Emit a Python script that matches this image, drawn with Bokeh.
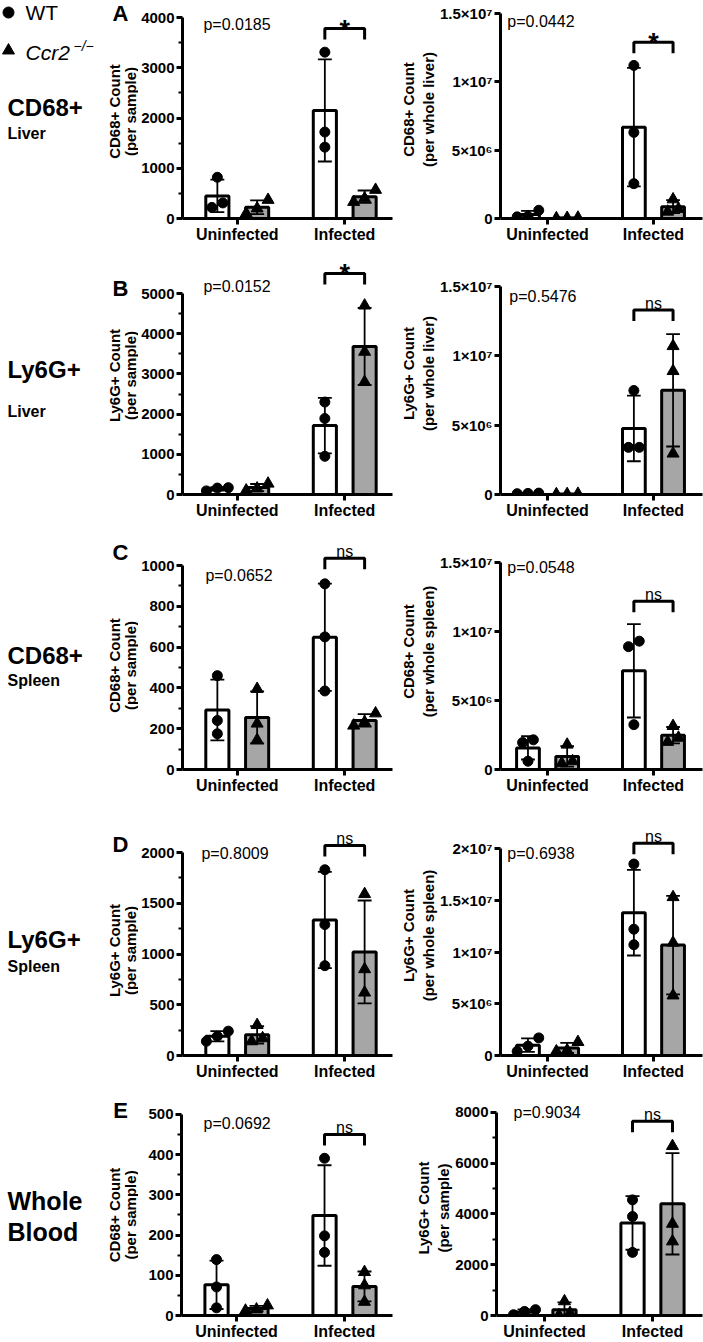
import numpy as np
from bokeh.plotting import figure
from bokeh.models import Range1d, FixedTicker, Label
from bokeh.layouts import column, row
from bokeh.embed import file_html
from bokeh.resources import INLINE
from bokeh.core.properties import value

# ------------------------------------------------------------------ data
groups = ["Uninfected", "Infected"]
genotypes = ["WT", "Ccr2"]

# points per mouse: [uninfected, infected]
A_sample_WT = [[820, 220, 310], [3310, 1720, 1420]]
A_sample_KO = [[370, 200, 100], [570, 400, 330]]
A_whole_WT = [[0.15e6, 0.6e6, 0.12e6], [11.2e6, 6.3e6, 2.55e6]]
A_whole_KO = [[0.04e6, 0.06e6, 0.02e6], [1.4e6, 0.7e6, 0.5e6]]
B_sample_WT = [[90, 160, 170], [2300, 1890, 950]]
B_sample_KO = [[270, 150, 100], [4700, 3550, 2800]]
B_whole_WT = [[0.1e6, 0.08e6, 0.06e6], [7.5e6, 3.4e6, 3.4e6]]
B_whole_KO = [[0.03e6, 0.02e6, 0.05e6], [10.7e6, 8.9e6, 2.95e6]]
C_sample_WT = [[460, 240, 175], [910, 650, 385]]
C_sample_KO = [[395, 225, 145], [275, 232, 215]]
C_whole_WT = [[2.15e6, 1.95e6, 0.6e6], [9.3e6, 8.9e6, 3.25e6]]
C_whole_KO = [[1.8e6, 0.6e6, 0.45e6], [3.15e6, 2.3e6, 2.0e6]]
D_sample_WT = [[240, 190, 140], [1830, 1290, 885]]
D_sample_KO = [[300, 170, 140], [1590, 850, 620]]
D_whole_WT = [[1.7e6, 0.9e6, 0.4e6], [18.5e6, 12.2e6, 10.7e6]]
D_whole_KO = [[1.3e6, 0.5e6, 0.4e6], [15.3e6, 10.9e6, 5.8e6]]
E_cd68_WT = [[139, 71, 19], [391, 198, 157]]
E_cd68_KO = [[25, 15, 12], [108, 75, 34]]
E_ly6g_WT = [[30, 230, 160], [4555, 3900, 2487]]
E_ly6g_KO = [[560, 100, 10], [6675, 3613, 2919]]

p_values = ["p=0.0185", "p=0.0442", "p=0.0152", "p=0.5476", "p=0.0652",
            "p=0.0548", "p=0.8009", "p=0.6938", "p=0.0692", "p=0.9034"]
sig_labels = ["*", "*", "*", "ns", "ns", "ns", "ns", "ns", "ns", "ns"]
bracket_levels = [3780, 1.29e7, 5500, 1.33e7, 1035, 1.22e7, 2070, 2.05e7, 450, 7650]

y_titles = [("CD68+ Count", "(per sample)"), ("CD68+ Count", "(per whole liver)"),
            ("Ly6G+ Count", "(per sample)"), ("Ly6G+ Count", "(per whole liver)"),
            ("CD68+ Count", "(per sample)"), ("CD68+ Count", "(per whole spleen)"),
            ("Ly6G+ Count", "(per sample)"), ("Ly6G+ Count", "(per whole spleen)"),
            ("CD68+ Count", "(per sample)"), ("Ly6G+ Count", "(per sample)")]

sci_ticks = [0, 5000000, 10000000, 15000000]
sci_ticks_20 = [0, 5000000, 10000000, 15000000, 20000000]
sci_labels = {0: "0", 5000000: "5×10⁶", 10000000: "1×10⁷",
              15000000: "1.5×10⁷", 20000000: "2×10⁷"}
y_major = [[0, 1000, 2000, 3000, 4000], sci_ticks,
           [0, 1000, 2000, 3000, 4000, 5000], sci_ticks,
           [0, 200, 400, 600, 800, 1000], sci_ticks,
           [0, 500, 1000, 1500, 2000], sci_ticks_20,
           [0, 100, 200, 300, 400, 500], [0, 2000, 4000, 6000, 8000]]
y_minor = [[500, 1500, 2500, 3500], [],
           [500, 1500, 2500, 3500, 4500], [],
           [100, 300, 500, 700, 900], [],
           [250, 750, 1250, 1750], [],
           [50, 150, 250, 350, 450], [1000, 3000, 5000, 7000]]

row_titles = [("CD68+", "Liver"), ("Ly6G+", "Liver"), ("CD68+", "Spleen"),
              ("Ly6G+", "Spleen"), ("Whole", "Blood")]
panel_letters = ["A", "B", "C", "D", "E"]

# ------------------------------------------------------------------ layout / style
FONT = "Liberation Sans"
KO_FILL = "#a6a6a6"
UNIT = 108.0           # px per category unit
BAR_OFF = 0.185
BAR_W = 0.215

# page px: row_top, frame_top, zero_line, row_bottom, left_top_tick, right_top_tick
ROWS = [
    (0, 0, 218, 250, 17, 13),
    (250, 252, 494, 530, 293, 286),
    (530, 533, 769, 800, 565, 562),
    (800, 815, 1055, 1085, 852, 848),
    (1085, 1100, 1316, 1342, 1114, 1112),
]
LABEL_W = 138
FIGS = [dict(page_x=138, frame_left=181, frame_right=392, width=258, x0=0.4907),
        dict(page_x=396, frame_left=496, frame_right=702, width=307, x0=0.5556)]
# p-value text offsets: (px right of y axis, px below top tick)
PV_OFF = [(21, 7), (7, 8), (21, -7), (9, 10), (23, 10),
          (7, 5), (19, 1), (7, 5), (22, 9), (17, 0)]
# row label page positions: (big y, small y, big size, small size)
ROW_LABEL_Y = [(107, 133, "24px", "16px"), (369, 411, "24px", "16px"),
               (655, 680, "24px", "16px"), (939, 966, "24px", "16px"),
               (1201, 1232, "25px", "25px")]
LETTER_Y = [13, 288, 552, 844, 1110]
YTITLE_Y = [111, 375, 665, 950, 1215]


def jitter_px(vals, uy):
    vals = np.asarray(vals, dtype=float)
    order = np.argsort(vals)
    pxs = vals / uy
    clusters, cur = [], [order[0]]
    for a, b in zip(order[:-1], order[1:]):
        if pxs[b] - pxs[a] < 9:
            cur.append(b)
        else:
            clusters.append(cur)
            cur = [b]
    clusters.append(cur)
    offs = np.zeros(len(vals))
    for c in clusters:
        n = len(c)
        for i, idx in enumerate(c):
            offs[idx] = (i - (n - 1) / 2) * 11
    return offs


def style_axis(ax):
    ax.axis_line_width = 3
    ax.axis_line_color = "black"
    ax.major_tick_line_width = 3
    ax.major_tick_line_color = "black"
    ax.major_tick_in = 0
    ax.major_tick_out = 6
    ax.minor_tick_in = 0
    ax.minor_tick_out = 4
    ax.minor_tick_line_width = 2
    ax.minor_tick_line_color = "black"
    ax.major_label_text_font = FONT
    ax.major_label_text_font_style = "bold"
    ax.major_label_text_font_size = "15px"
    ax.major_label_text_color = "black"
    ax.major_label_standoff = 2
    ax.axis_label_text_font = FONT
    ax.axis_label_text_font_style = "bold"
    ax.axis_label_text_font_size = "15px"
    ax.axis_label_text_color = "black"
    ax.axis_label_standoff = 0


def make_panel(idx, wt, ko):
    r, side = divmod(idx, 2)
    row_top, frame_top, zero, row_bottom, lt, rt = ROWS[r]
    g = FIGS[side]
    tick_px = lt if side == 0 else rt
    majors = y_major[idx]
    top_val = majors[-1]
    frame_h = zero - frame_top
    y_end = top_val * frame_h / (zero - tick_px)
    frame_w = g["frame_right"] - g["frame_left"]
    x0 = g["x0"]
    x1 = x0 + frame_w / UNIT
    ux = 1.0 / UNIT
    uy = y_end / frame_h

    def X(px):
        return x0 + (px - g["frame_left"]) * ux

    def Y(py):
        return (zero - py) * uy

    p = figure(width=g["width"], height=row_bottom - row_top,
               x_range=Range1d(x0, x1), y_range=Range1d(0, y_end),
               output_backend="svg", toolbar_location=None, tools="",
               min_border_left=g["frame_left"] - g["page_x"],
               min_border_right=g["page_x"] + g["width"] - g["frame_right"],
               min_border_top=frame_top - row_top,
               min_border_bottom=row_bottom - zero)
    p.outline_line_color = None
    p.xgrid.visible = False
    p.ygrid.visible = False
    p.background_fill_color = "white"
    p.border_fill_color = "white"

    series = [(wt, "white", "circle", 10, -BAR_OFF), (ko, KO_FILL, "triangle", 12, BAR_OFF)]
    for pts, fill, _, _, off in series:
        xs = [1 + off, 2 + off]
        means = [float(np.mean(v)) for v in pts]
        p.vbar(x=xs, top=means, bottom=0, width=BAR_W, fill_color=fill,
               line_color="black", line_width=3)
    cw = 7 * ux
    for pts, fill, _, _, off in series:
        xs = np.array([1 + off, 2 + off])
        means = np.array([np.mean(v) for v in pts])
        sds = np.array([np.std(v, ddof=1) for v in pts])
        lo, hi = means - sds, means + sds
        p.segment(x0=xs, y0=lo, x1=xs, y1=hi, line_color="black", line_width=1.8)
        p.segment(x0=xs - cw, y0=hi, x1=xs + cw, y1=hi, line_color="black", line_width=1.8)
        p.segment(x0=xs - cw, y0=lo, x1=xs + cw, y1=lo, line_color="black", line_width=1.8)
    for pts, fill, marker, size, off in series:
        for gi, v in enumerate(pts):
            jx = jitter_px(v, uy) * ux
            xs = [gi + 1 + off + j for j in jx]
            p.scatter(x=xs, y=v, marker=marker, size=size, fill_color="black",
                      line_color="black")

    xa, xb = 2 - BAR_OFF, 2 + BAR_OFF
    lev = bracket_levels[idx]
    leg = 11 * uy
    p.line(x=[xa, xa, xb, xb], y=[lev - leg, lev, lev, lev - leg],
           line_color="black", line_width=3)
    sig = sig_labels[idx]
    if sig == "*":
        p.text(x=[2.0], y=[lev - 1 * uy], text=[sig], text_align="center",
               text_baseline="alphabetic", text_font=value(FONT),
               text_font_size="27px", text_font_style="bold", text_color="black")
    else:
        p.text(x=[2.0], y=[lev + 7 * uy], text=[sig], text_align="center",
               text_baseline="alphabetic", text_font=value(FONT),
               text_font_size="16px", text_color="black")

    dx, dy = PV_OFF[idx]
    p.add_layout(Label(x=X(g["frame_left"] + dx), y=Y(tick_px + dy), text=p_values[idx],
                       text_font=FONT, text_font_size="16px", text_baseline="middle",
                       text_align="left", text_color="black"))

    p.xaxis.ticker = FixedTicker(ticks=[1, 2])
    p.xaxis.major_label_overrides = {1: groups[0], 2: groups[1]}
    p.yaxis.ticker = FixedTicker(ticks=majors, minor_ticks=y_minor[idx])
    p.yaxis.bounds = (0, top_val)
    if side == 1 and majors[-1] >= 1e6:
        p.yaxis.major_label_overrides = {t: sci_labels[t] for t in majors}
    style_axis(p.xaxis[0])
    style_axis(p.yaxis[0])
    p.xaxis.minor_tick_line_color = None
    p.xaxis.major_label_text_font_size = "16px"
    p.xaxis.major_label_standoff = 1
    if side == 1:
        p.yaxis.axis_label = "\n".join(y_titles[idx])
    return p


def make_label_fig(r):
    # text column left of the panels; its frame is aligned with the panel frames,
    # so the y range maps page pixels between frame top and zero line
    row_top, frame_top, zero, row_bottom, lt, rt = ROWS[r]
    f = figure(width=LABEL_W, height=row_bottom - row_top,
               x_range=Range1d(0, LABEL_W), y_range=Range1d(zero, frame_top),
               x_axis_location=None, y_axis_location=None,
               output_backend="svg", toolbar_location=None, tools="",
               min_border_left=0, min_border_right=0,
               min_border_top=frame_top - row_top, min_border_bottom=row_bottom - zero)
    f.outline_line_color = None
    f.xgrid.visible = False
    f.ygrid.visible = False
    big, small = row_titles[r]
    by, sy, bsz, ssz = ROW_LABEL_Y[r]
    common = dict(text_font=value(FONT), text_color="black", text_baseline="middle")
    f.text(x=[7], y=[by], text=[big], text_font_size=bsz, text_font_style="bold", **common)
    f.text(x=[7], y=[sy], text=[small], text_font_size=ssz, text_font_style="bold", **common)
    f.text(x=[120], y=[LETTER_Y[r]], text=[panel_letters[r]], text_font_size="22px",
           text_font_style="bold", text_align="center", **common)
    t1, t2 = y_titles[2 * r]
    f.text(x=[114, 130], y=[YTITLE_Y[r], YTITLE_Y[r]], text=[t1, t2], angle=np.pi / 2,
           text_font_size="15px", text_font_style="bold", text_align="center", **common)
    if r == 0:
        f.scatter(x=[8], y=[12], marker="circle", size=11, color="black")
        f.scatter(x=[8], y=[50], marker="triangle", size=12, color="black")
        f.text(x=[25], y=[12], text=[genotypes[0]], text_font_size="21px", **common)
        f.text(x=[25], y=[52], text=[genotypes[1]], text_font_size="21px",
               text_font_style="italic", **common)
        f.text(x=[73], y=[45], text=["−/−"], text_font_size="14px",
               text_font_style="italic", **common)
    return f


panel_data = [(A_sample_WT, A_sample_KO), (A_whole_WT, A_whole_KO),
              (B_sample_WT, B_sample_KO), (B_whole_WT, B_whole_KO),
              (C_sample_WT, C_sample_KO), (C_whole_WT, C_whole_KO),
              (D_sample_WT, D_sample_KO), (D_whole_WT, D_whole_KO),
              (E_cd68_WT, E_cd68_KO), (E_ly6g_WT, E_ly6g_KO)]

rows = []
for r in range(5):
    lab = make_label_fig(r)
    left = make_panel(2 * r, *panel_data[2 * r])
    right = make_panel(2 * r + 1, *panel_data[2 * r + 1])
    rows.append(row(lab, left, right))

layout = column(*rows)
open("out.html", "w").write(file_html(layout, INLINE))
